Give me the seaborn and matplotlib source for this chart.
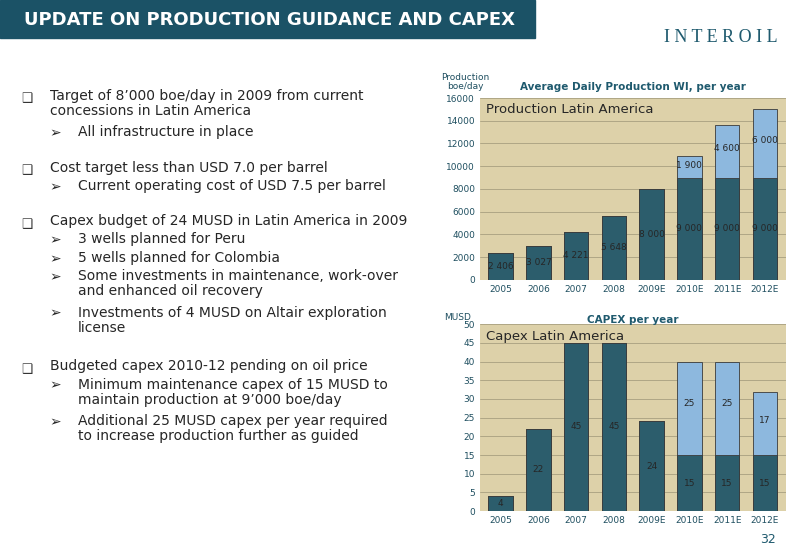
import matplotlib
matplotlib.use("Agg")
import matplotlib.pyplot as plt
import seaborn as sns
import pandas as pd

years = ['2005', '2006', '2007', '2008', '2009E', '2010E', '2011E', '2012E']
prod_base = [2406, 3027, 4221, 5648, 8000, 9000, 9000, 9000]
prod_extra = [0, 0, 0, 0, 0, 1900, 4600, 6000]
prod_labels = ['2 406', '3 027', '4 221', '5 648', '8 000', '9 000', '9 000', '9 000']
capex_base = [4, 22, 45, 45, 24, 15, 15, 15]
capex_extra = [0, 0, 0, 0, 0, 25, 25, 17]

bullets = [
    (0, "Target of 8\u2019000 boe/day in 2009 from current\nconcessions in Latin America"),
    (1, "All infrastructure in place"),
    (None, ""),
    (0, "Cost target less than USD 7.0 per barrel"),
    (1, "Current operating cost of USD 7.5 per barrel"),
    (None, ""),
    (0, "Capex budget of 24 MUSD in Latin America in 2009"),
    (1, "3 wells planned for Peru"),
    (1, "5 wells planned for Colombia"),
    (1, "Some investments in maintenance, work-over\nand enhanced oil recovery"),
    (1, "Investments of 4 MUSD on Altair exploration\nlicense"),
    (None, ""),
    (0, "Budgeted capex 2010-12 pending on oil price"),
    (1, "Minimum maintenance capex of 15 MUSD to\nmaintain production at 9\u2019000 boe/day"),
    (1, "Additional 25 MUSD capex per year required\nto increase production further as guided"),
]

sns.set_style("white")
plt.rcParams['font.family'] = ['DejaVu Sans']
DARK = '#2c5d6c'
LIGHT = '#8db8de'
BG = '#ddd1a9'
TITLE = '#1f5a6e'

fig = plt.figure(figsize=(8, 5.54), dpi=100)

# banner
fig.patches.append(plt.Rectangle((0, 1 - 38 / 554), 535 / 800, 38 / 554,
                                 transform=fig.transFigure, color='#1b5266', zorder=0))
fig.text(0.03, 1 - 20 / 554, "UPDATE ON PRODUCTION GUIDANCE AND CAPEX", color='white',
         fontsize=13, fontweight='bold', va='center')
fig.text(0.83, 1 - 38 / 554, "I N T E R O I L", color='#1f5a6e', fontsize=13,
         family='Liberation Serif', va='center')
fig.text(0.97, 0.02, "32", color='#1f5a6e', fontsize=9, ha='right')

# bullets
line = 18.3 / 554
y = 1 - 92 / 554
for lvl, txt in bullets:
    if lvl is None:
        y -= 17 / 554
        continue
    nl = txt.count("\n") + 1
    if lvl == 0:
        fig.text(0.027, y, "\u2751", fontsize=9, va='top', color='#333333')
        fig.text(0.062, y + 0.006, txt, fontsize=10, va='top', linespacing=1.1)
    else:
        fig.text(0.062, y + 0.004, "\u27a2", fontsize=10, va='top')
        fig.text(0.097, y + 0.006, txt, fontsize=10, va='top', linespacing=1.1)
    y -= line * nl


def draw(ax, base, extra, labels, ymax, step, inner):
    df = pd.DataFrame({'year': years, 'base': base, 'total': [b + e for b, e in zip(base, extra)]})
    ax.set_facecolor(BG)
    sns.barplot(data=df, x='year', y='total', color=LIGHT, ax=ax, width=0.65,
                edgecolor='#3a3a3a', linewidth=0.6, saturation=1, zorder=3)
    sns.barplot(data=df, x='year', y='base', color=DARK, ax=ax, width=0.65,
                edgecolor='#3a3a3a', linewidth=0.6, saturation=1, zorder=3)
    for i, (b, e) in enumerate(zip(base, extra)):
        ax.text(i, b / 2, labels[i], ha='center', va='center', fontsize=6.5, zorder=5)
        if e:
            ax.text(i, b + e / 2 + (e * 0.05), f"{e:,}".replace(",", " ") if e >= 1000 else str(e),
                    ha='center', va='center', fontsize=6.5, zorder=5)
    ax.set_ylim(0, ymax)
    ax.set_xlim(-0.55, 7.55)
    ax.set_yticks(range(0, ymax + 1, step))
    ax.yaxis.grid(True, color='#a89f80', linewidth=0.6, zorder=0)
    ax.set_xlabel('')
    ax.set_ylabel('')
    ax.tick_params(axis='both', labelsize=6.5, length=0, colors='#1f4f60')
    for s in ax.spines.values():
        s.set_visible(False)
    ax.text(0.02, 0.97, inner, transform=ax.transAxes, fontsize=9.5, va='top', zorder=6)


ax1 = fig.add_axes([0.6, 0.4946, 0.382, 0.3285])
draw(ax1, prod_base, prod_extra, prod_labels, 16000, 2000, "Production Latin America")
ax1.set_title("Average Daily Production WI, per year", fontsize=7.5, fontweight='bold',
              color=TITLE, pad=6)
fig.text(0.582, 1 - 91 / 554, "Production\nboe/day", fontsize=6.5, color='#1f4f60', ha='center',
         va='bottom', linespacing=0.95)

ax2 = fig.add_axes([0.6, 0.0776, 0.382, 0.337])
draw(ax2, capex_base, capex_extra, [str(v) for v in capex_base], 50, 5, "Capex Latin America")
ax2.set_title("CAPEX per year", fontsize=7.5, fontweight='bold', color=TITLE, pad=1)
fig.text(0.555, 0.418, "MUSD", fontsize=6.5, color='#1f4f60', va='bottom')

fig.savefig("out.png", dpi=100)
